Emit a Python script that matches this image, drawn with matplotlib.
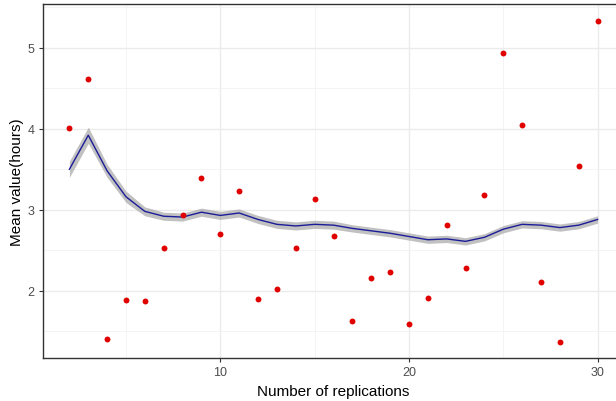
import matplotlib
matplotlib.use("Agg")
import matplotlib.pyplot as plt

plt.rcParams['font.family'] = ['Liberation Sans', 'DejaVu Sans']

# replications and observed means
replications = list(range(2, 31))
mean_values = [4.01, 4.61, 1.41, 1.88, 1.87, 2.53, 2.93, 3.39, 2.70, 3.23,
               1.90, 2.02, 2.53, 3.13, 2.68, 1.63, 2.16, 2.23, 1.59, 1.91,
               2.81, 2.28, 3.18, 4.93, 4.05, 2.11, 1.37, 3.54, 5.33]

# smoothed curve (cumulative mean) and its band
smooth_values = [3.50, 3.92, 3.48, 3.16, 2.98, 2.92, 2.91, 2.97, 2.93, 2.96,
                 2.88, 2.82, 2.80, 2.82, 2.81, 2.77, 2.74, 2.71, 2.67, 2.63,
                 2.64, 2.61, 2.66, 2.76, 2.82, 2.81, 2.78, 2.81, 2.88]
band_width = [0.10, 0.10, 0.08, 0.07, 0.055, 0.05, 0.05, 0.05, 0.05, 0.05,
              0.05, 0.05, 0.05, 0.05, 0.05, 0.045, 0.045, 0.045, 0.045, 0.045,
              0.045, 0.045, 0.045, 0.045, 0.045, 0.045, 0.045, 0.045, 0.045]

lower = [s - w for s, w in zip(smooth_values, band_width)]
upper = [s + w for s, w in zip(smooth_values, band_width)]

fig = plt.figure(figsize=(6.16, 4.02), dpi=100)
ax = fig.add_axes([43/616, 1 - 359/402, 581/616, 354/402])

ax.fill_between(replications, lower, upper, color='#999999', alpha=0.6, linewidth=0, zorder=2)
ax.plot(replications, smooth_values, color='#1c1c99', linewidth=1.0, zorder=3)
ax.scatter(replications, mean_values, color='#e00000', s=18, zorder=4, linewidths=0)

ax.set_xlim(0.6, 31.4)
ax.set_ylim(1.17, 5.54)
ax.set_xticks([10, 20, 30])
ax.set_yticks([2, 3, 4, 5])
ax.set_xticks([5, 15, 25], minor=True)
ax.set_yticks([1.5, 2.5, 3.5, 4.5, 5.5], minor=True)

ax.grid(True, which='major', color='#ebebeb', linewidth=1.0, zorder=0)
ax.grid(True, which='minor', color='#f2f2f2', linewidth=0.6, zorder=0)
ax.set_axisbelow(True)

for side in ['left', 'bottom', 'top', 'right']:
    ax.spines[side].set_color('#333333')
    ax.spines[side].set_linewidth(1.0)

ax.tick_params(axis='both', which='major', colors='#333333', labelcolor='#4d4d4d',
               labelsize=9, length=3, width=0.8, pad=3)
ax.tick_params(axis='both', which='minor', length=0)

ax.set_xlabel("Number of replications", fontsize=11, color='black', labelpad=4)
ax.set_ylabel("Mean value(hours)", fontsize=11, color='black', labelpad=3)

fig.savefig("out.png", dpi=100)
